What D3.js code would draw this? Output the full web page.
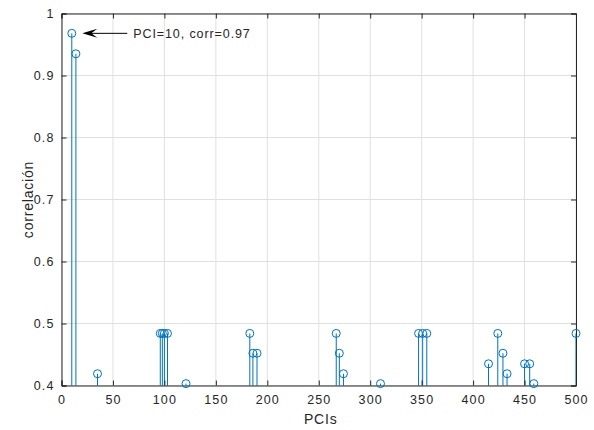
<!DOCTYPE html>
<html><head><meta charset="utf-8">
<script src="https://cdn.jsdelivr.net/npm/d3@7"></script>
<style>body{margin:0;background:#fff}svg{display:block}text{font-family:"Liberation Sans",Arial,sans-serif;fill:#262626}</style>
</head><body><svg id="c" width="594" height="430"></svg>
<script>
const pcis = [10, 14, 35, 96, 98, 100, 103, 121, 183, 186, 190, 267, 270, 274, 310, 347, 351, 355, 415, 424, 429, 433, 450, 455, 459, 500];
const corr = [0.968, 0.935, 0.419, 0.484, 0.484, 0.484, 0.484, 0.403, 0.484, 0.452, 0.452, 0.484, 0.452, 0.419, 0.403, 0.484, 0.484, 0.484, 0.435, 0.484, 0.452, 0.419, 0.435, 0.435, 0.403, 0.484];
const xTicks = [0, 50, 100, 150, 200, 250, 300, 350, 400, 450, 500];
const yTicks = [0.4, 0.5, 0.6, 0.7, 0.8, 0.9, 1];
const annot = {pci: 10, corr: 0.968, label: "PCI=10, corr=0.97"};

const svg = d3.select("#c");
const L = 61.5, R = 576, T = 13.5, B = 385.5;
const x = d3.scaleLinear().domain([0, 500]).range([L, R]);
const y = d3.scaleLinear().domain([0.4, 1]).range([B, T]);
const blue = "#0072BD";

// grid
svg.append("g").selectAll("line.gx").data(xTicks).join("line")
  .attr("x1", d => x(d)).attr("x2", d => x(d)).attr("y1", T).attr("y2", B)
  .attr("stroke", "#e0e0e0").attr("stroke-width", 1);
svg.append("g").selectAll("line.gy").data(yTicks).join("line")
  .attr("y1", d => y(d)).attr("y2", d => y(d)).attr("x1", L).attr("x2", R)
  .attr("stroke", "#e0e0e0").attr("stroke-width", 1);

svg.append("defs").append("clipPath").attr("id", "clip")
  .append("rect").attr("x", L).attr("y", T).attr("width", R - L).attr("height", B - T);

const data = pcis.map((p, i) => ({p, v: corr[i]}));
svg.append("g").attr("clip-path", "url(#clip)").selectAll("line").data(data).join("line")
  .attr("x1", d => x(d.p)).attr("x2", d => x(d.p))
  .attr("y1", y(0)).attr("y2", d => y(d.v))
  .attr("stroke", blue).attr("stroke-width", 1);

// axes
const axB = svg.append("g").attr("transform", `translate(0,${B})`)
  .call(d3.axisBottom(x).tickValues(xTicks).tickSize(-5).tickPadding(9).tickFormat(d3.format("d")));
const axT = svg.append("g").attr("transform", `translate(0,${T})`)
  .call(d3.axisTop(x).tickValues(xTicks).tickSize(-5).tickFormat(""));
const axL = svg.append("g").attr("transform", `translate(${L},0)`)
  .call(d3.axisLeft(y).tickValues(yTicks).tickSize(-5).tickPadding(7).tickFormat(d => d === 1 ? "1" : d3.format(".1f")(d)));
const axR = svg.append("g").attr("transform", `translate(${R},0)`)
  .call(d3.axisRight(y).tickValues(yTicks).tickSize(-5).tickFormat(""));
[axB, axT, axL, axR].forEach(a => {
  a.select(".domain").attr("stroke", "#262626").attr("stroke-width", 1);
  a.selectAll(".tick line").attr("stroke", "#262626");
  a.selectAll("text").attr("font-size", "12.5px").attr("letter-spacing", "1.1px")
    .attr("font-family", "'Liberation Sans', Arial, sans-serif").attr("fill", "#262626");
});
axB.selectAll("text").attr("dy", "0.72em");

// markers
svg.append("g").selectAll("circle").data(data).join("circle")
  .attr("cx", d => x(d.p)).attr("cy", d => y(d.v)).attr("r", 4)
  .attr("fill", "none").attr("stroke", blue).attr("stroke-width", 1);

// labels
svg.append("text").attr("x", (L + R) / 2 + 2).attr("y", 424).attr("text-anchor", "middle")
  .attr("font-size", "14px").attr("letter-spacing", "0.8px").text("PCIs");
svg.append("text").attr("transform", `translate(33,${(T + B) / 2}) rotate(-90)`)
  .attr("text-anchor", "middle").attr("font-size", "14px").attr("letter-spacing", "0.8px").text("correlación");

// annotation arrow
const ax = x(annot.pci) + 10.5, ay = y(annot.corr);
svg.append("line").attr("x1", ax + 8).attr("x2", ax + 45).attr("y1", ay).attr("y2", ay)
  .attr("stroke", "#000").attr("stroke-width", 1);
svg.append("path")
  .attr("d", `M${ax},${ay} L${ax + 15},${ay - 4.5} L${ax + 9},${ay} L${ax + 15},${ay + 4.5} Z`)
  .attr("fill", "#000");
svg.append("text").attr("x", ax + 51).attr("y", ay + 4.5)
  .attr("font-size", "12.5px").attr("letter-spacing", "0.9px").attr("fill", "#000").text(annot.label);
</script></body></html>
